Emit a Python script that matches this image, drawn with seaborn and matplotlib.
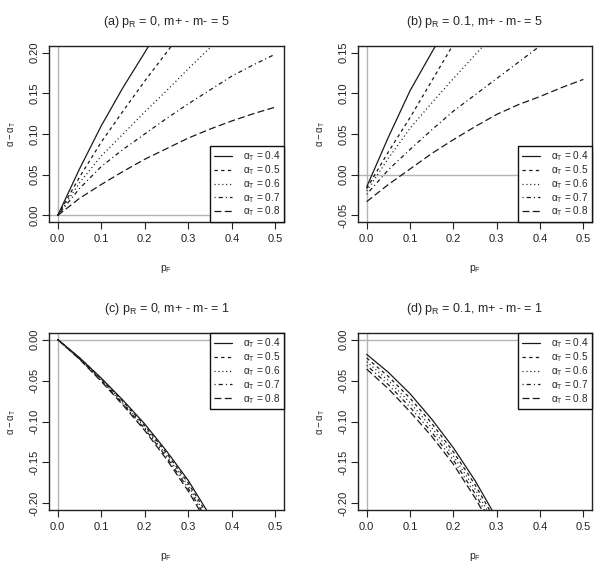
import numpy as np
import pandas as pd
import matplotlib
matplotlib.use("Agg")
import matplotlib.pyplot as plt
import seaborn as sns

# ---------------- data ----------------
pF = [0.0, 0.05, 0.10, 0.15, 0.20, 0.25, 0.30, 0.35, 0.40, 0.45, 0.50]
alpha_T = [0.4, 0.5, 0.6, 0.7, 0.8]

# (a) pR = 0, m+ - m- = 5
a_04 = [0, 0.057, 0.110, 0.157, 0.200, 0.245, 0.290, 0.330, 0.370, 0.410, 0.450]
a_05 = [0, 0.047, 0.090, 0.128, 0.165, 0.200, 0.235, 0.268, 0.300, 0.330, 0.360]
a_06 = [0, 0.040, 0.073, 0.100, 0.127, 0.153, 0.180, 0.206, 0.230, 0.255, 0.280]
a_07 = [0, 0.033, 0.060, 0.081, 0.100, 0.119, 0.137, 0.154, 0.171, 0.185, 0.198]
a_08 = [0, 0.021, 0.038, 0.054, 0.069, 0.082, 0.095, 0.106, 0.116, 0.125, 0.133]

# (b) pR = 0.1, m+ - m- = 5
b_04 = [-0.015, 0.046, 0.103, 0.150, 0.195, 0.240, 0.280, 0.320, 0.360, 0.400, 0.440]
b_05 = [-0.017, 0.028, 0.070, 0.115, 0.160, 0.200, 0.240, 0.280, 0.320, 0.360, 0.400]
b_06 = [-0.020, 0.020, 0.057, 0.088, 0.118, 0.147, 0.176, 0.200, 0.230, 0.250, 0.280]
b_07 = [-0.024, 0.006, 0.031, 0.055, 0.078, 0.098, 0.118, 0.138, 0.158, 0.177, 0.195]
b_08 = [-0.033, -0.012, 0.007, 0.026, 0.043, 0.059, 0.074, 0.086, 0.096, 0.107, 0.117]

# (c) pR = 0, m+ - m- = 1
c_04 = [0, -0.0220, -0.047, -0.0740, -0.103, -0.1360, -0.1720, -0.215, -0.260, -0.310, -0.360]
c_05 = [0, -0.0225, -0.048, -0.0755, -0.105, -0.1385, -0.1752, -0.219, -0.265, -0.315, -0.365]
c_06 = [0, -0.0230, -0.049, -0.0770, -0.107, -0.1410, -0.1785, -0.223, -0.270, -0.320, -0.370]
c_07 = [0, -0.0235, -0.050, -0.0785, -0.109, -0.1435, -0.1818, -0.226, -0.275, -0.325, -0.375]
c_08 = [0, -0.0240, -0.051, -0.0800, -0.111, -0.1460, -0.1850, -0.230, -0.280, -0.330, -0.380]

# (d) pR = 0.1, m+ - m- = 1
d_04 = [-0.0180, -0.040, -0.0660, -0.0970, -0.132, -0.1720, -0.2180, -0.270, -0.320, -0.370, -0.420]
d_05 = [-0.0225, -0.045, -0.0715, -0.1020, -0.137, -0.1770, -0.2235, -0.275, -0.325, -0.375, -0.425]
d_06 = [-0.0270, -0.050, -0.0770, -0.1075, -0.142, -0.1825, -0.2290, -0.280, -0.330, -0.380, -0.430]
d_07 = [-0.0315, -0.055, -0.0825, -0.1130, -0.147, -0.1880, -0.2345, -0.285, -0.335, -0.385, -0.435]
d_08 = [-0.0360, -0.060, -0.0880, -0.1180, -0.152, -0.1930, -0.2400, -0.290, -0.340, -0.390, -0.440]

titles = [r"(a) $\mathregular{p_R}$ = 0, m+ - m- = 5",
          r"(b) $\mathregular{p_R}$ = 0.1, m+ - m- = 5",
          r"(c) $\mathregular{p_R}$ = 0, m+ - m- = 1",
          r"(d) $\mathregular{p_R}$ = 0.1, m+ - m- = 1"]
xticks = [0.0, 0.1, 0.2, 0.3, 0.4, 0.5]
xticklabels = ["0.0", "0.1", "0.2", "0.3", "0.4", "0.5"]
yticks_a = [0.00, 0.05, 0.10, 0.15, 0.20]
yticklabels_a = ["0.00", "0.05", "0.10", "0.15", "0.20"]
yticks_b = [-0.05, 0.00, 0.05, 0.10, 0.15]
yticklabels_b = ["-0.05", "0.00", "0.05", "0.10", "0.15"]
yticks_c = [-0.20, -0.15, -0.10, -0.05, 0.00]
yticklabels_c = ["-0.20", "-0.15", "-0.10", "-0.05", "0.00"]

# ---------------- style ----------------
sns.set_style("white")
plt.rcParams["font.family"] = ["Liberation Sans", "DejaVu Sans"]
plt.rcParams["mathtext.fontset"] = "custom"
plt.rcParams["mathtext.rm"] = "Liberation Sans"
plt.rcParams["mathtext.it"] = "Liberation Sans:italic"
plt.rcParams["lines.scale_dashes"] = False

line_styles = ["-", (0, (2.4, 2.4)), (0, (0.8, 2.0)), (0, (0.8, 2.2, 3.0, 2.2)), (0, (5.0, 2.4))]
line_color = "#1a1a1a"

fig = plt.figure(figsize=(6.0, 5.62), dpi=100)
W, H = 600.0, 562.0
def rect(l, r, t, b):
    return [l / W, 1 - b / H, (r - l) / W, (b - t) / H]

positions = [rect(49, 284, 46, 222), rect(358, 592, 46, 222),
             rect(49, 284, 333, 510), rect(358, 592, 333, 510)]
panels = [[a_04, a_05, a_06, a_07, a_08],
          [b_04, b_05, b_06, b_07, b_08],
          [c_04, c_05, c_06, c_07, c_08],
          [d_04, d_05, d_06, d_07, d_08]]
ylims = [(-0.008, 0.208), (-0.058, 0.158), (-0.208, 0.008), (-0.208, 0.008)]
yt = [(yticks_a, yticklabels_a), (yticks_b, yticklabels_b),
      (yticks_c, yticklabels_c), (yticks_c, yticklabels_c)]
legend_locs = ["lower right", "lower right", "upper right", "upper right"]

for i in range(4):
    ax = fig.add_axes(positions[i])
    ax.axhline(0, color="#b4b4b4", lw=1.0, zorder=1)
    ax.axvline(0, color="#b4b4b4", lw=1.0, zorder=1)
    for k, vals in enumerate(panels[i]):
        df = pd.DataFrame({"pF": pF, "diff": vals})
        sns.lineplot(data=df, x="pF", y="diff", ax=ax, color=line_color,
                     linestyle=line_styles[k], lw=0.9,
                     label=r"$\mathregular{\alpha_T}$ = " + f"{alpha_T[k]}",
                     zorder=3)
    ax.set_xlim(-0.02, 0.52)
    ax.set_ylim(*ylims[i])
    ax.set_xticks(xticks)
    ax.set_xticklabels(xticklabels)
    ax.set_yticks(yt[i][0])
    ax.set_yticklabels(yt[i][1], rotation=90, va="center")
    ax.tick_params(direction="out", length=5, width=0.8, colors="#222222",
                   labelsize=8, pad=4, bottom=True, left=True)
    ax.tick_params(axis="y", pad=2)
    for s in ax.spines.values():
        s.set_color("#222222")
        s.set_linewidth(1.0)
    ax.set_title(titles[i], fontsize=9, pad=15)
    ax.set_xlabel(r"$\mathregular{p_F}$", fontsize=7.5, labelpad=13)
    ax.set_ylabel(r"$\mathregular{\alpha - \alpha_T}$", fontsize=7, labelpad=8)
    leg = ax.legend(loc=legend_locs[i], borderaxespad=0, fancybox=False,
                    edgecolor="#111111", framealpha=1, fontsize=7.2,
                    handlelength=1.8, handletextpad=1.1, labelspacing=0.0,
                    borderpad=0.35)
    leg.get_frame().set_linewidth(1.0)
    leg.set_zorder(5)

fig.savefig("out.png", dpi=100)
